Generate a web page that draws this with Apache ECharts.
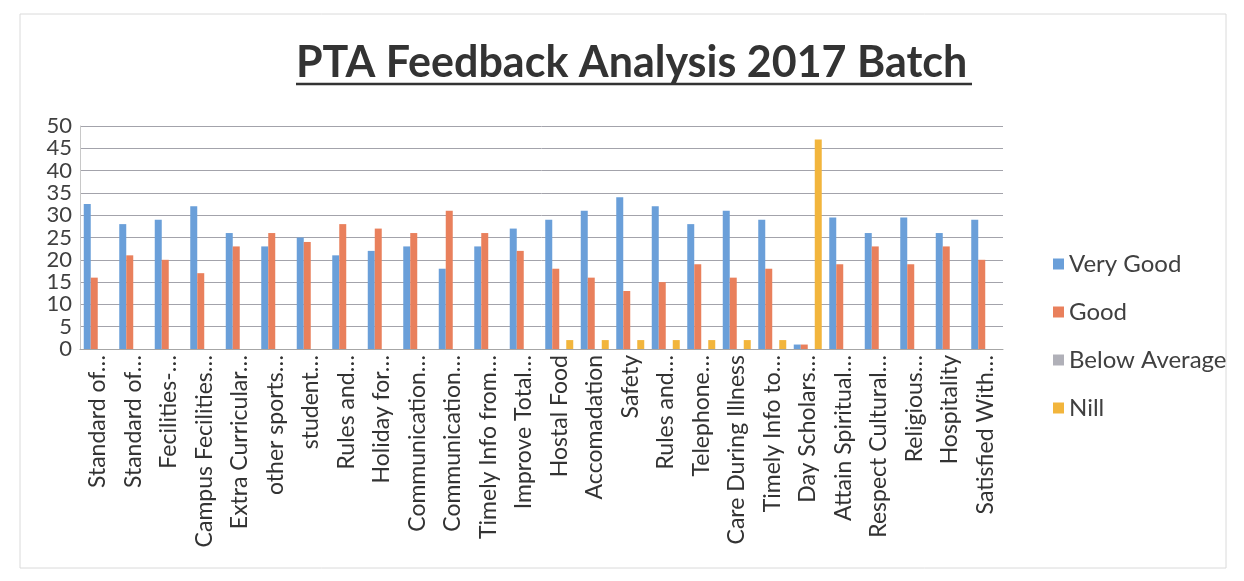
<!DOCTYPE html>
<html>
<head>
<meta charset="utf-8">
<script src="https://cdn.jsdelivr.net/npm/echarts@6/dist/echarts.min.js"></script>
<style>
  html, body { margin: 0; padding: 0; background: #fff; }
  #chart { width: 1244px; height: 581px; }
</style>
</head>
<body>
<div id="chart"></div>
<script>
// categories as shown (Excel truncated them)
var categories = [
  'Standard of…', 'Standard of…', 'Fecilities-…', 'Campus Fecilities…',
  'Extra Curricular…', 'other sports…', 'student…', 'Rules and…',
  'Holiday for…', 'Communication…', 'Communication…', 'Timely Info from…',
  'Improve Total…', 'Hostal Food', 'Accomadation', 'Safety', 'Rules and…',
  'Telephone…', 'Care During Illness', 'Timely Info to…', 'Day Scholars…',
  'Attain Spiritual…', 'Respect Cultural…', 'Religious…', 'Hospitality',
  'Satisfied With…'
];
var veryGood = [32.5, 28, 29, 32, 26, 23, 25, 21, 22, 23, 18, 23, 27, 29, 31, 34, 32, 28, 31, 29, 1, 29.5, 26, 29.5, 26, 29];
var good     = [16, 21, 20, 17, 23, 26, 24, 28, 27, 26, 31, 26, 22, 18, 16, 13, 15, 19, 16, 18, 1, 19, 23, 19, 23, 20];
var belowAvg = [0, 0, 0, 0, 0, 0, 0, 0, 0, 0, 0, 0, 0, 0, 0, 0, 0, 0, 0, 0, 0, 0, 0, 0, 0, 0];
var nill     = [0, 0, 0, 0, 0, 0, 0, 0, 0, 0, 0, 0, 0, 2, 2, 2, 2, 2, 2, 2, 47, 0, 0, 0, 0, 0];
var yTicks = [0, 5, 10, 15, 20, 25, 30, 35, 40, 45, 50];

var FONT = 'Lato, "Open Sans", sans-serif';
var myChart = echarts.init(document.getElementById('chart'));

function bar(name, data, color) {
    return {
        name: name,
        type: 'bar',
        data: data,
        barWidth: 7,
        barGap: '0%',
        itemStyle: { color: color }
    };
}

var option = {
    backgroundColor: '#fff',
    animation: false,
    title: {
        text: 'PTA Feedback Analysis 2017 Batch',
        left: 291,
        top: 37,
        textStyle: { fontFamily: FONT, fontSize: 43, fontWeight: 'bold', color: '#333' }
    },
    legend: {
        orient: 'vertical',
        left: 1048,
        top: 247,
        itemWidth: 11,
        itemHeight: 11,
        itemGap: 24,
        icon: 'rect',
        textStyle: { fontFamily: FONT, fontSize: 24, color: '#404040' },
        data: ['Very Good', 'Good', 'Below Average', 'Nill']
    },
    grid: { left: 80, right: 241, top: 126, bottom: 232 },
    xAxis: {
        type: 'category',
        data: categories,
        axisLine: { lineStyle: { color: '#a6a6a6' } },
        axisTick: { show: false },
        axisLabel: {
            rotate: 90,
            interval: 0,
            margin: 6,
            fontFamily: FONT,
            fontSize: 23,
            color: '#333'
        }
    },
    yAxis: {
        type: 'value',
        min: yTicks[0],
        max: yTicks[yTicks.length - 1],
        interval: 5,
        axisLine: { show: true, lineStyle: { color: '#c8c8c8' } },
        axisTick: { show: false },
        axisLabel: { fontFamily: FONT, fontSize: 22, color: '#404040', margin: 8 },
        splitLine: { lineStyle: { color: '#a3a3ab', width: 1 } }
    },
    series: [
        bar('Very Good', veryGood, '#6a9fd9'),
        bar('Good', good, '#e9805c'),
        bar('Below Average', belowAvg, '#b0b0b8'),
        bar('Nill', nill, '#f2b53c')
    ],
    graphic: [
        {
            type: 'rect',
            shape: { x: 20, y: 14, width: 1206, height: 554 },
            style: { fill: 'none', stroke: '#dadada', lineWidth: 1 },
            silent: true
        },
        {
            type: 'line',
            shape: { x1: 296, y1: 84, x2: 972, y2: 84 },
            style: { stroke: '#333', lineWidth: 2.5 },
            silent: true
        }
    ]
};
myChart.setOption(option);
</script>
</body>
</html>
